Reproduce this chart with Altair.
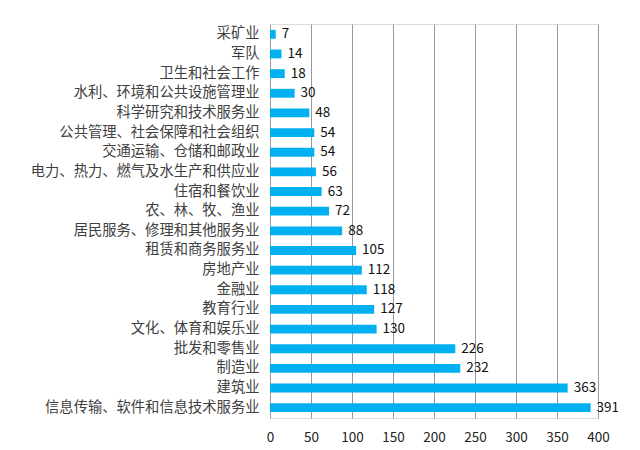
import altair as alt
import pandas as pd

categories = ["采矿业", "军队", "卫生和社会工作", "水利、环境和公共设施管理业", "科学研究和技术服务业",
              "公共管理、社会保障和社会组织", "交通运输、仓储和邮政业", "电力、热力、燃气及水生产和供应业",
              "住宿和餐饮业", "农、林、牧、渔业", "居民服务、修理和其他服务业", "租赁和商务服务业",
              "房地产业", "金融业", "教育行业", "文化、体育和娱乐业", "批发和零售业", "制造业",
              "建筑业", "信息传输、软件和信息技术服务业"]
values = [7, 14, 18, 30, 48, 54, 54, 56, 63, 72, 88, 105, 112, 118, 127, 130, 226, 232, 363, 391]
x_ticks = [0, 50, 100, 150, 200, 250, 300, 350, 400]

df = pd.DataFrame({"cat": categories, "val": values})

font = "Noto Sans CJK SC"

base = alt.Chart(df).encode(
    y=alt.Y("cat:N", sort=categories, title=None,
            scale=alt.Scale(paddingInner=0.55, paddingOuter=0.3),
            axis=alt.Axis(ticks=False, domain=False, labelPadding=11, labelFontSize=14.3,
                          labelColor="#404040", labelFont=font, labelLimit=400)),
    x=alt.X("val:Q", title=None, scale=alt.Scale(domain=[0, 400], nice=False),
            axis=alt.Axis(values=x_ticks, grid=True, gridColor="#999999", gridWidth=1,
                          ticks=False, domain=False, labelPadding=12, labelFontSize=13.5,
                          labelColor="#222222", labelFont=font, labelFlush=False)),
)

bars = base.mark_bar(color="#00B0F0")
labels = base.mark_text(align="left", dx=6, fontSize=13.5, color="#111111", font=font).encode(
    text="val:Q")

chart = (bars + labels).properties(
    width=328, height=394,
    autosize=alt.AutoSizeParams(type="none"),
    padding={"left": 262, "top": 16, "right": 20, "bottom": 30},
).configure_view(stroke=None).configure(background="white")

chart.save("out.html", embed_options={"renderer": "svg", "actions": False})
